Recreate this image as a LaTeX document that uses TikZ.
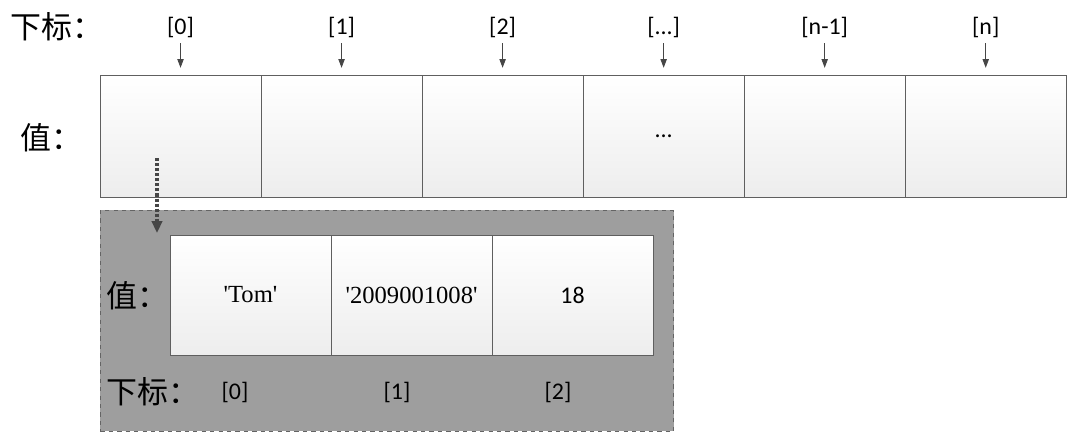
\documentclass[tikz,border=0pt]{standalone}
\usepackage{fontspec}
\setmainfont{Liberation Serif}
\setsansfont{Carlito}
\newfontfamily\cjkfont{Noto Sans CJK SC}
\usetikzlibrary{arrows.meta,positioning}
\definecolor{celledge}{RGB}{95,95,95}
\definecolor{arrowdark}{RGB}{70,70,70}
\definecolor{panelgrey}{RGB}{158,158,158}
\definecolor{paneledge}{RGB}{100,100,100}
\newcommand{\idxfont}{\sffamily\fontsize{17}{20}\selectfont}
\newcommand{\valfont}{\rmfamily\fontsize{17.5}{20}\selectfont}
\newcommand{\cnfont}{\cjkfont\fontsize{22}{26}\selectfont}
\newcommand{\sq}{\textquotesingle}
\tikzset{
  cell/.style={
    draw=celledge,
    line width=0.6pt,
    top color=white,
    bottom color=black!7,
    outer sep=0pt,
    minimum width=4.025cm,
    minimum height=3.05cm,
    font=\valfont
  },
  smallcell/.style={cell, minimum height=3cm},
  panel/.style={
    draw=paneledge,
    dashed,
    line width=0.6pt,
    fill=panelgrey,
    minimum width=14.325cm,
    minimum height=5.525cm
  },
  idx/.style={font=\idxfont, inner sep=2pt},
  cnlabel/.style={font=\cnfont, inner sep=0pt, anchor=west},
  idxarrow/.style={-{Triangle[length=2.2mm, width=1.6mm]}, line width=0.6pt, draw=arrowdark, shorten <=2pt, shorten >=1.8mm},
  ptrarrow/.style={-{Triangle[length=3mm, width=2.6mm]}, line width=2.2pt, dash pattern=on 2.2pt off 1.4pt, draw=arrowdark}
}
\begin{document}
\begin{tikzpicture}[x=0.025cm, y=-0.025cm]
  \useasboundingbox (0,0) rectangle (1074,436);

  % outer array
  \node[cell, anchor=north west] (c0) at (100,75) {};
  \node[cell, right=0pt of c0] (c1) {};
  \node[cell, right=0pt of c1] (c2) {};
  \node[cell, right=0pt of c2] (c3) {\idxfont ...};
  \node[cell, right=0pt of c3] (c4) {};
  \node[cell, right=0pt of c4] (c5) {};

  \node[cnlabel] (toplbl) at (10,27) {下标：};
  \node[cnlabel] (topval) at (20,138) {值：};

  \node[idx] (i0) at (c0.center |- 0,27) {[0]};
  \node[idx] (i1) at (c1.center |- 0,27) {[1]};
  \node[idx] (i2) at (c2.center |- 0,27) {[2]};
  \node[idx] (i3) at (c3.center |- 0,27) {[...]};
  \node[idx] (i4) at (c4.center |- 0,27) {[n-1]};
  \node[idx] (i5) at (c5.center |- 0,27) {[n]};

  \draw[idxarrow] (i0) -- (c0);
  \draw[idxarrow] (i1) -- (c1);
  \draw[idxarrow] (i2) -- (c2);
  \draw[idxarrow] (i3) -- (c3);
  \draw[idxarrow] (i4) -- (c4);
  \draw[idxarrow] (i5) -- (c5);

  % element of the array
  \node[panel, anchor=north west] (elem) at (100,210) {};
  \node[smallcell, anchor=north west] (r0) at (170,235) {\sq Tom\sq};
  \node[smallcell, right=0pt of r0] (r1) {\sq 2009001008\sq};
  \node[smallcell, right=0pt of r1] (r2) {\idxfont 18};

  \node[cnlabel] (elemval) at (106,296) {值：};
  \node[cnlabel] (elemlbl) at (106,392) {下标：};
  \node[idx] (j0) at (235,392) {[0]};
  \node[idx] (j1) at (397,392) {[1]};
  \node[idx] (j2) at (558,392) {[2]};

  \coordinate (ptr) at (157,158);
  \coordinate (ptrend) at (157,233);
  \draw[ptrarrow] (ptr) -- (ptrend);
\end{tikzpicture}
\end{document}
